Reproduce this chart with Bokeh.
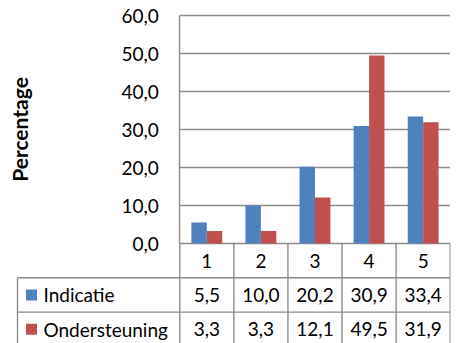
from bokeh.plotting import figure
from bokeh.models import (Range1d, FixedTicker, CustomJSTickFormatter, ColumnDataSource,
                          LinearAxis)
from bokeh.transform import dodge
from bokeh.core.properties import value
from bokeh.embed import file_html
from bokeh.resources import INLINE

# ---------------- data ----------------
categories = ["1", "2", "3", "4", "5"]
series_names = ["Indicatie", "Ondersteuning"]
indicatie = [5.5, 10.0, 20.2, 30.9, 33.4]
ondersteuning = [3.3, 3.3, 12.1, 49.5, 31.9]
y_ticks = [0, 10, 20, 30, 40, 50, 60]
series_colors = ["#4F81BD", "#C0504D"]

# ---------------- layout (pixels) ----------------
W, H = 458, 343
BORDER_RIGHT = 8
TABLE_LEFT = 17       # pixel column of the table's left edge
TOP_Y = 15            # pixel row of the top tick
ZERO_Y = 243          # pixel row of value 0
ROW_H = 34.3          # table row height
LABEL_COLS = 3        # label column width, in category widths
FONT = "Lato"
FS = "19px"
GRID = "#8c8c8c"
LW = 1.4

n = len(categories)
frame_w = W - BORDER_RIGHT
col_w = (frame_w - TABLE_LEFT - 0.3) / (n + LABEL_COLS)
x_start = 0.5 - LABEL_COLS - TABLE_LEFT / col_w
x_end = n + 0.5 + 0.3 / col_w

ppu = (ZERO_Y - TOP_Y) / y_ticks[-1]
y_start = -(H - ZERO_Y) / ppu
y_end = y_ticks[-1] + TOP_Y / ppu
row_u = ROW_H / ppu

fmt = lambda v: f"{v:.1f}".replace(".", ",")

cat_x = list(range(1, n + 1))
src = ColumnDataSource(dict(x=cat_x, cat=categories, a=indicatie, b=ondersteuning))

p = figure(width=W, height=H, output_backend="svg", toolbar_location=None,
           x_range=Range1d(x_start, x_end), y_range=Range1d(y_start, y_end),
           x_axis_type=None, y_axis_type=None,
           min_border_left=0, min_border_right=BORDER_RIGHT,
           min_border_top=0, min_border_bottom=0)
p.outline_line_color = None
p.background_fill_color = "white"
p.border_fill_color = "white"
p.grid.visible = False

# y axis placed at the left boundary of the first category
yaxis = LinearAxis(fixed_location=0.5, bounds=(y_ticks[0], y_ticks[-1]))
yaxis.ticker = FixedTicker(ticks=y_ticks)
yaxis.formatter = CustomJSTickFormatter(code="return tick.toFixed(1).replace('.', ',')")
yaxis.axis_line_color = GRID
yaxis.axis_line_width = LW
yaxis.major_tick_out = 0
yaxis.major_tick_in = 0
yaxis.minor_tick_out = 0
yaxis.minor_tick_in = 0
yaxis.major_label_text_font = FONT
yaxis.major_label_text_font_size = FS
yaxis.major_label_text_color = "black"
yaxis.major_label_standoff = 21
yaxis.axis_label = "Percentage"
yaxis.axis_label_text_font = FONT
yaxis.axis_label_text_font_size = "21px"
yaxis.axis_label_text_font_style = "bold"
yaxis.axis_label_text_color = "black"
yaxis.axis_label_standoff = 86
p.add_layout(yaxis, "left")

# gridlines (also the top line of the table at 0)
p.segment(x0=0.5, x1=n + 0.5, y0=y_ticks, y1=y_ticks, line_color=GRID, line_width=LW)

# bars
bw = 0.285
p.vbar(x=dodge("x", -bw / 2, range=p.x_range), top="a", width=bw, source=src,
       fill_color=series_colors[0], line_color=None)
p.vbar(x=dodge("x", bw / 2, range=p.x_range), top="b", width=bw, source=src,
       fill_color=series_colors[1], line_color=None)

# table lines
lab_x0 = 0.5 - LABEL_COLS
row_lines = [-row_u * k for k in (1, 2, 3)]
p.segment(x0=lab_x0, x1=n + 0.5, y0=row_lines, y1=row_lines,
          line_color=GRID, line_width=LW)
vx = [i - 0.5 for i in cat_x] + [n + 0.5]
p.segment(x0=vx, x1=vx, y0=0, y1=y_start, line_color=GRID, line_width=LW)
p.segment(x0=[lab_x0], x1=[lab_x0], y0=-row_u, y1=y_start,
          line_color=GRID, line_width=LW)

# table text
tkw = dict(text_font=value(FONT), text_font_size=FS, text_color="black",
           text_baseline="middle")
p.text(x="x", y=-row_u * 0.5, text="cat", source=src, text_align="center", **tkw)
p.text(x=cat_x, y=-row_u * 1.5, text=[fmt(v) for v in indicatie], text_align="center", **tkw)
p.text(x=cat_x, y=-row_u * 2.5, text=[fmt(v) for v in ondersteuning], text_align="center", **tkw)

# row labels with legend keys
rows_y = [-row_u * 1.5, -row_u * 2.5]
p.scatter(x=[lab_x0 + 14 / col_w] * 2, y=rows_y, marker="square", size=11,
          fill_color=series_colors, line_color=None)
p.text(x=[lab_x0 + 26 / col_w] * 2, y=rows_y, text=series_names, text_align="left", **tkw)

open("out.html", "w").write(file_html(p, INLINE))
